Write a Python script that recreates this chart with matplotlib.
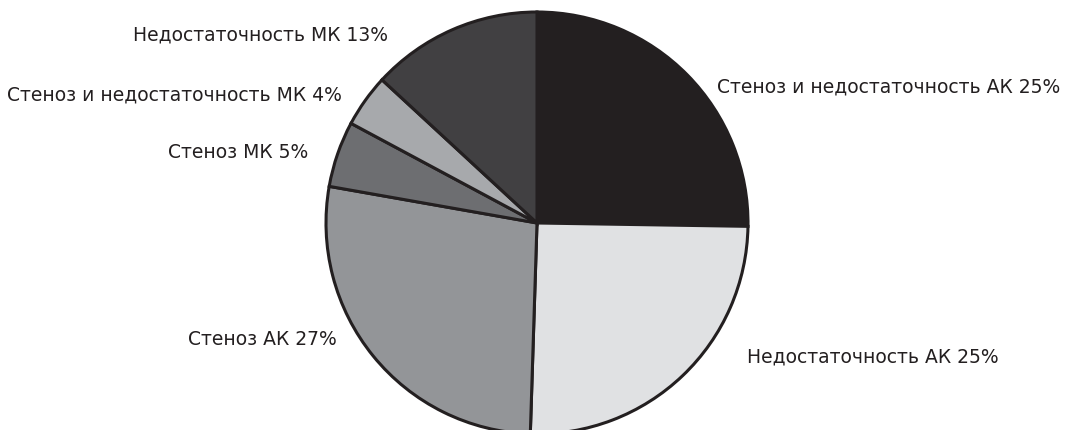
import matplotlib
matplotlib.use("Agg")
import matplotlib.pyplot as plt

# --- data ---
labels = [
    "Стеноз и недостаточность АК",
    "Недостаточность АК",
    "Стеноз АК",
    "Стеноз МК",
    "Стеноз и недостаточность МК",
    "Недостаточность МК",
]
shares = [25, 25, 27, 5, 4, 13]
colors = ["#231f20", "#e0e1e3", "#939598", "#6d6e71", "#a7a9ac", "#414042"]

W, H = 1069, 431
TEXT = "#231f20"

# label anchors in pixel space (x, y from top, horizontal alignment)
label_pos = [
    (717, 87, "left"),
    (747, 357, "left"),
    (337, 340, "right"),
    (308, 153, "right"),
    (342, 95, "right"),
    (388, 35, "right"),
]

plt.rcParams["font.family"] = ["DejaVu Sans"]

fig = plt.figure(figsize=(W / 100, H / 100), dpi=100)
ax = fig.add_axes([0, 0, 1, 1])

ax.pie(shares, colors=colors, startangle=90, counterclock=False,
       center=(537, H - 224), radius=211,
       wedgeprops=dict(edgecolor="#231f20", linewidth=2.2),
       frame=True)
ax.set_xlim(0, W)
ax.set_ylim(0, H)
ax.set_aspect("equal")
ax.axis("off")

for name, pct, (x, y, ha) in zip(labels, shares, label_pos):
    ax.text(x, H - y, f"{name} {pct}%", ha=ha, va="center",
            fontsize=13.5, color=TEXT)

fig.savefig("out.png", dpi=100)
